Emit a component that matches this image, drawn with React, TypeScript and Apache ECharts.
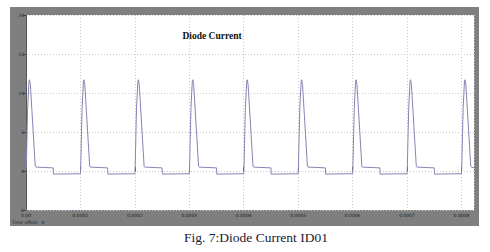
import React, { useEffect, useRef } from "react";
import * as echarts from "echarts";

// time in microseconds, current in A
const timeUs: number[] = [
  0, 0.5, 3, 5.5, 6.5, 8, 17, 18, 50, 50.5,
  100, 100.5, 103, 105.5, 106.5, 108, 117, 118, 150, 150.5,
  200, 200.5, 203, 205.5, 206.5, 208, 217, 218, 250, 250.5,
  300, 300.5, 303, 305.5, 306.5, 308, 317, 318, 350, 350.5,
  400, 400.5, 403, 405.5, 406.5, 408, 417, 418, 450, 450.5,
  500, 500.5, 503, 505.5, 506.5, 508, 517, 518, 550, 550.5,
  600, 600.5, 603, 605.5, 606.5, 608, 617, 618, 650, 650.5,
  700, 700.5, 703, 705.5, 706.5, 708, 717, 718, 750, 750.5,
  800, 800.5, 803, 805.5, 806.5, 808, 817, 818, 823,
];
const currentA: number[] = [
  0.1, 0.5, 8, 11.5, 11.7, 11.1, 0.6, 0.5, 0.4, -0.4,
  -0.35, 0.5, 8, 11.5, 11.7, 11.1, 0.6, 0.5, 0.4, -0.4,
  -0.35, 0.5, 8, 11.5, 11.7, 11.1, 0.6, 0.5, 0.4, -0.4,
  -0.35, 0.5, 8, 11.5, 11.7, 11.1, 0.6, 0.5, 0.4, -0.4,
  -0.35, 0.5, 8, 11.5, 11.7, 11.1, 0.6, 0.5, 0.4, -0.4,
  -0.35, 0.5, 8, 11.5, 11.7, 11.1, 0.6, 0.5, 0.4, -0.4,
  -0.35, 0.5, 8, 11.5, 11.7, 11.1, 0.6, 0.5, 0.4, -0.4,
  -0.35, 0.5, 8, 11.5, 11.7, 11.1, 0.6, 0.5, 0.4, -0.4,
  -0.35, 0.5, 8, 11.5, 11.7, 11.1, 0.6, 0.5, 0.4,
];
const xTickLabels: string[] = ["0.00", "0.0001", "0.0002", "0.0003", "0.0004", "0.0005", "0.0006", "0.0007", "0.0008"];
const yTickLabels: string[] = ["-5", "0", "5", "10", "15", "20"];

const titleText = "Diode Current";
const captionText = "Fig. 7:Diode Current ID01";
const offsetText = "Time offset:  0";

export default function App() {
  const ref = useRef<HTMLDivElement>(null);
  useEffect(() => {
    document.body.style.margin = "0";
    if (!ref.current) return;
    const chart = echarts.init(ref.current, null, { renderer: "svg" });
    const data = timeUs.map((t, i) => [t, currentA[i]]);
    chart.setOption({
      animation: false,
      backgroundColor: "#ffffff",
      grid: {
        left: 26,
        top: 15,
        right: 16,
        bottom: 42,
        show: true,
        backgroundColor: "#ffffff",
        borderWidth: 0,
      },
      graphic: [
        {
          type: "rect",
          z: -100,
          shape: { x: 10, y: 7, width: 469, height: 219 },
          style: { fill: "#7f7f7f" },
        },
        {
          type: "text",
          z: 100,
          x: 212,
          y: 36,
          style: {
            text: titleText,
            font: "bold 9.5px 'Liberation Serif', 'Times New Roman', serif",
            fill: "#111",
            align: "center",
            verticalAlign: "middle",
          },
        },
        {
          type: "text",
          z: 100,
          x: 12,
          y: 222,
          style: {
            text: offsetText,
            font: "4.5px 'DejaVu Sans', sans-serif",
            fill: "#222",
            align: "left",
            verticalAlign: "middle",
          },
        },
        {
          type: "text",
          z: 100,
          x: 256,
          y: 237,
          style: {
            text: captionText,
            font: "13.5px 'Liberation Serif', 'Times New Roman', serif",
            fill: "#1a1a33",
            align: "center",
            verticalAlign: "middle",
          },
        },
      ],
      xAxis: {
        type: "value",
        min: 0,
        max: 823,
        interval: 100,
        axisLine: { show: false },
        axisTick: { show: true, inside: true, length: 4, lineStyle: { color: "#444", width: 1 } },
        splitLine: { show: true, lineStyle: { color: "#c8c8c8", type: [1, 2], width: 1 } },
        axisLabel: {
          fontSize: 4.5,
          color: "#222",
          margin: 3,
          showMaxLabel: false,
          fontFamily: "'DejaVu Sans', sans-serif",
          formatter: (v: number) => {
            const idx = Math.round(v / 100);
            if (Math.abs(v - idx * 100) > 0.01) return "";
            return xTickLabels[idx] ?? "";
          },
        },
      },
      yAxis: {
        type: "value",
        min: -5,
        max: 20,
        interval: 5,
        axisLine: { show: true, lineStyle: { color: "#555", width: 1 } },
        axisTick: { show: true, length: 3, lineStyle: { color: "#444" } },
        splitLine: { show: true, lineStyle: { color: "#c8c8c8", type: [1, 2], width: 1 } },
        axisLabel: {
          fontSize: 4.5,
          color: "#222",
          margin: 2,
          fontFamily: "'DejaVu Sans', sans-serif",
          formatter: (v: number) => {
            const idx = Math.round((v + 5) / 5);
            return yTickLabels[idx] ?? "";
          },
        },
      },
      series: [
        {
          type: "line",
          data,
          showSymbol: false,
          symbol: "none",
          lineStyle: { color: "#8585b5", width: 1 },
          z: 5,
        },
      ],
    });
    return () => chart.dispose();
  }, []);
  return <div ref={ref} style={{ width: 490, height: 252 }} />;
}
